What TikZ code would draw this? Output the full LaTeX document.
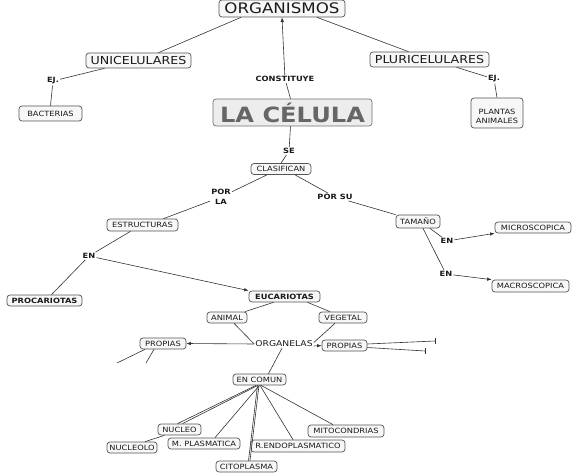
\documentclass[tikz,border=0pt]{standalone}
\usepackage{fontspec}
\setmainfont{DejaVu Sans}[FakeStretch=1.15]
\usetikzlibrary{arrows.meta}
\definecolor{ln}{HTML}{333333}
\definecolor{bd}{HTML}{555555}
\definecolor{tx}{HTML}{1a1a1a}
\definecolor{celtx}{HTML}{666666}
\begin{document}
\begin{tikzpicture}[x=1pt,y=-1pt,
 box/.style={draw=bd, line width=0.7pt, rounded corners=3pt, fill=black!3, inner sep=0pt, text=tx, font=\fontsize{7.2}{8}\selectfont},
 big/.style={box, font=\fontsize{11}{12}\selectfont},
 sz/.style 2 args={minimum width=#1pt, minimum height=#2pt},
 lbl/.style={inner sep=1pt, text=tx, font=\bfseries\fontsize{7.2}{9}\selectfont, align=center},
 con/.style={draw=ln, line width=0.6pt},
 arr/.style={con, -{Latex[length=4.5pt,width=3.5pt]}},
]
\useasboundingbox (0,0) rectangle (578,473);
\fill[white] (0,0) rectangle (578,473);

% nodes
\node[big, sz={126}{17}, font=\fontsize{14.5}{16}\selectfont] (orga) at (282,8.5) {ORGANISMOS};
\node[big, sz={105}{15}] (uni) at (138.5,60.5) {UNICELULARES};
\node[big, sz={119}{15}] (pluri) at (429.5,59.5) {PLURICELULARES};
\node[lbl] (ej1) at (53,81) {EJ.};
\node[box, sz={63}{15}] (bact) at (50.5,113.5) {BACTERIAS};
\node[lbl] (ej2) at (494,79) {EJ.};
\node[box, sz={52}{30}, align=center] (plant) at (497,113) {\raisebox{-3.5pt}[\height][\depth]{\shortstack{PLANTAS\\ANIMALES}}};
\node[lbl] (cons) at (285,79) {CONSTITUYE};
\node[box, sz={159}{27}, fill=black!7, draw=black!55, text=celtx, font=\bfseries\fontsize{21}{24}\selectfont] (cel) at (292.5,112.5) {LA CÉLULA};
\node[lbl] (se) at (289,151) {SE};
\node[box, sz={60}{11}] (clas) at (281,169) {CLASIFICAN};
\node[lbl, font=\bfseries\fontsize{7.2}{10}\selectfont] (porla) at (221,197) {POR\\LA};
\node[lbl] (porsu) at (335,197) {POR SU};
\node[box, sz={71}{12}] (estr) at (142.5,225) {ESTRUCTURAS};
\node[box, sz={44}{13}] (tam) at (418,221.5) {TAMAÑO};
\node[box, sz={76}{11}] (micro) at (533,227.5) {MICROSCOPICA};
\node[lbl] (en2) at (447,241) {EN};
\node[lbl] (en3) at (446,274) {EN};
\node[box, sz={77}{12}] (macro) at (530.5,286) {MACROSCOPICA};
\node[lbl] (en1) at (89,256) {EN};
\node[box, sz={75}{11}, font=\bfseries\fontsize{7.2}{8}\selectfont] (proc) at (44.5,300.5) {PROCARIOTAS};
\node[box, sz={71}{11}, font=\bfseries\fontsize{7.2}{8}\selectfont] (euc) at (284.5,296.5) {EUCARIOTAS};
\node[box, sz={40}{11}] (animal) at (227,317.5) {ANIMAL};
\node[box, sz={48}{11}] (veg) at (343,317.5) {VEGETAL};
\node[inner sep=1pt, text=tx, font=\fontsize{8}{9}\selectfont] (org) at (284,344) {ORGANELAS};
\node[box, sz={46}{11}] (propL) at (163,343.5) {PROPIAS};
\node[box, sz={45}{11}] (propR) at (344.5,345.5) {PROPIAS};
\node[box, sz={53}{11}] (encom) at (259.5,379.5) {EN COMUN};
\node[box, sz={43}{11}] (nucleo) at (179.5,429.5) {NUCLEO};
\node[box, sz={50}{11}] (nucleolo) at (132,447.5) {NUCLEOLO};
\node[box, sz={72}{11}] (mplas) at (204,443.5) {M. PLASMATICA};
\node[box, sz={61}{11}] (cito) at (246.5,466.5) {CITOPLASMA};
\node[box, sz={94}{12}] (rendo) at (298,446) {R.ENDOPLASMATICO};
\node[box, sz={76}{12}] (mito) at (346,431) {MITOCONDRIAS};

% free ends
\coordinate (dl1) at (117,363);
\coordinate (dl2) at (146,363);
\coordinate (dr1) at (435,341);
\coordinate (dr2) at (425,351);

% connectors
\draw[con] ([xshift=-41pt]orga.south) -- ([xshift=20pt]uni.north);
\draw[con] ([xshift=35pt]orga.south) -- ([xshift=-21pt]pluri.north);
\draw[con] ([xshift=-2pt]cel.north) -- (cons);
\draw[arr] (cons) -- (orga.south);
\draw[con] ([xshift=-34pt]uni.south) -- (ej1);
\draw[con] (ej1) -- (bact.north);
\draw[con] ([xshift=27pt]pluri.south) -- (ej2);
\draw[con] (ej2) -- (plant.north);
\draw[con] ([xshift=-2pt]cel.south) -- (se);
\draw[con] (se) -- (clas.north);
\draw[con] ([xshift=-14pt]clas.south) -- (porla);
\draw[con] (porla) -- ([xshift=21pt]estr.north);
\draw[con] ([xshift=14pt]clas.south) -- (porsu);
\draw[con] (porsu) -- (tam.north west);
\draw[con] ([xshift=-12pt]estr.south) -- (en1);
\draw[con] (en1) -- ([xshift=7pt]proc.north);
\draw[arr] (en1) -- (euc.north west);
\draw[con] ([xshift=12pt]tam.south) -- (en2);
\draw[arr] (en2) -- (micro.south west);
\draw[con] ([xshift=5pt]tam.south) -- (en3);
\draw[arr] (en3) -- (macro.north west);
\draw[con] ([xshift=-11pt]euc.south) -- ([xshift=18pt]animal.north);
\draw[con] ([xshift=23pt]euc.south) -- ([xshift=-13pt]veg.north);
\draw[con] ([xshift=7pt]animal.south) -- (org.west);
\draw[con] ([xshift=-8pt]veg.south) -- ([yshift=1.5pt]org.east);
\draw[arr] (org.west) -- (propL.east);
\draw[arr] ([yshift=-2pt]org.east) -- (propR.west);
\draw[con] ([xshift=-2pt]org.south) -- ([xshift=9pt]encom.north);
\draw[con] ([xshift=-3.5pt]encom.south) -- ([xshift=-2pt]nucleo.north);
\draw[con] ([xshift=-1.5pt]encom.south) -- ([xshift=3pt]nucleo.north);
\draw[con] (encom.south) -- ([xshift=11pt]mplas.north);
\draw[con] ([xshift=-2pt]encom.south) -- ([xshift=2pt]cito.north);
\draw[con] ([xshift=-0.5pt]encom.south) -- ([xshift=3.5pt]cito.north);
\draw[con] ([xshift=0.5pt]encom.south) -- ([xshift=-5pt]rendo.north);
\draw[con] ([xshift=1.5pt]encom.south) -- ([xshift=-13pt]mito.north);
\draw[con] ([xshift=-15pt]nucleo.south) -- ([xshift=13pt]nucleolo.north);
\draw[con] ([xshift=-18pt]propL.south) -- (dl1);
\draw[con] ([xshift=-9pt]propL.south) -- (dl2);
\draw[con] ([yshift=1.5pt]propR.east) -- (dr1);
\draw[con] ([yshift=-2pt]propR.east) -- (dr2);
\draw[con] ([yshift=3pt]dr1) -- ([yshift=-3pt]dr1);
\draw[con] ([yshift=3pt]dr2) -- ([yshift=-3pt]dr2);
\end{tikzpicture}
\end{document}
